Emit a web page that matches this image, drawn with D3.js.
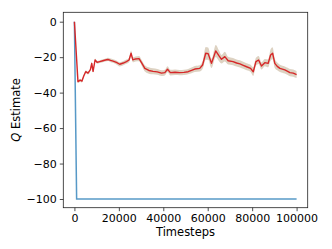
<!DOCTYPE html>
<html lang="en">
  <head>
    <meta charset="utf-8">
    <title>Q Estimate over timesteps</title>
    <style>
      body { margin: 0; background: #fff; }
      text { font-family: "DejaVu Sans", sans-serif; fill: #000; }
    </style>
  </head>
  <body>
    <div id="viz"></div>
    <script src="https://cdn.jsdelivr.net/npm/d3@7/dist/d3.min.js"></script>
    <script>
      // red run: mean and spread
      const redT = [0, 1600, 2600, 3400, 4200, 5100, 6100, 7200, 7800, 8400, 9300, 10200, 11400, 12800, 14000, 15100, 16300, 17400, 18900, 20400, 22000, 23400, 24600, 25500, 26300, 27500, 29100, 30400, 31700, 33500, 35400, 37300, 39200, 40700, 41900, 43200, 45300, 47400, 49300, 51200, 52700, 54200, 56400, 57700, 59100, 60200, 61700, 63600, 65100, 66200, 67700, 69200, 71400, 73000, 74500, 76000, 77500, 79300, 80500, 81700, 82900, 84200, 85700, 87200, 88300, 89200, 90200, 91300, 92500, 94700, 96000, 97000, 98500, 100000]
      const redMean = [0, -33.8, -33, -33.5, -30.6, -28.2, -29, -27, -23.5, -28, -21.6, -22.9, -22.5, -22, -21.6, -21.3, -21.8, -22.2, -23, -24, -23.3, -22.5, -21.6, -17.8, -21.5, -21, -20.8, -23.5, -26.3, -27.5, -28, -28.3, -29, -28.7, -26.8, -28.7, -28.5, -28.7, -28.6, -28.2, -27.5, -26.7, -26.3, -24.4, -17.8, -18, -23.5, -16.5, -19.3, -21.2, -19.7, -22, -22.5, -23.3, -23.8, -24.6, -25.4, -26.3, -28.2, -22.5, -21.6, -25, -23.1, -23.5, -18.8, -17.8, -23.5, -25.2, -26.3, -27.2, -28, -28.7, -29, -29.8]
      const redStd = [0.3, 0.8, 0.8, 0.8, 0.8, 0.8, 0.8, 0.8, 0.9, 0.8, 0.9, 0.8, 0.8, 0.8, 0.9, 0.9, 1, 1, 1.1, 1.2, 1.2, 1.2, 1.3, 1.5, 1.4, 1.4, 1.5, 1.6, 1.8, 1.8, 1.7, 1.6, 1.6, 1.6, 1.7, 1.6, 1.6, 1.5, 1.5, 1.5, 1.6, 1.7, 1.8, 2.2, 3.6, 3.4, 2.6, 3.4, 3, 2.4, 2.8, 2.2, 2, 2, 2, 2, 2, 2, 2.4, 2.2, 2.2, 2, 2, 2.2, 3.2, 3.4, 2.6, 2.2, 2, 2, 2, 2, 2, 2]

      // blue run
      const blueT = [0, 1000, 100000]
      const blueMean = [0, -100, -100]

      const xTicks = [0, 20000, 40000, 60000, 80000, 100000]
      const yTicks = [0, -20, -40, -60, -80, -100]

      const width = 332
      const height = 249
      const margin = { top: 12.3, right: 24.3, bottom: 41.3, left: 63.3 }

      const svg = d3.select('#viz').append('svg').attr('width', width).attr('height', height)

      const x = d3.scaleLinear().domain([-5000, 105000]).range([margin.left, width - margin.right])
      const y = d3.scaleLinear().domain([-104.9, 5.3]).range([height - margin.bottom, margin.top])

      const red = redT.map((t, i) => ({ t, m: redMean[i], s: redStd[i] }))
      const blue = blueT.map((t, i) => ({ t, m: blueMean[i] }))

      const area = d3.area().x(d => x(d.t)).y0(d => y(d.m - d.s)).y1(d => y(d.m + d.s)).curve(d3.curveMonotoneX)
      const line = d3.line().x(d => x(d.t)).y(d => y(d.m))

      svg.append('path').datum(blue)
        .attr('d', line).attr('fill', 'none')
        .attr('stroke', '#1f77b4').attr('stroke-opacity', 0.75).attr('stroke-width', 1.5)

      svg.append('path').datum(red)
        .attr('d', area).attr('fill', '#ddd2c2')

      svg.append('path').datum(red)
        .attr('d', line).attr('fill', 'none')
        .attr('stroke', '#d62728').attr('stroke-width', 1.4).attr('stroke-linejoin', 'round')

      // frame
      svg.append('rect')
        .attr('x', margin.left).attr('y', margin.top)
        .attr('width', width - margin.left - margin.right)
        .attr('height', height - margin.top - margin.bottom)
        .attr('fill', 'none').attr('stroke', '#222').attr('stroke-width', 0.8)

      const xAxis = svg.append('g')
        .attr('transform', `translate(0,${height - margin.bottom})`)
        .call(d3.axisBottom(x).tickValues(xTicks).tickSize(3.5).tickPadding(3).tickFormat(d3.format('d')))
      const yAxis = svg.append('g')
        .attr('transform', `translate(${margin.left},0)`)
        .call(d3.axisLeft(y).tickValues(yTicks).tickSize(3.5).tickPadding(3).tickFormat(d => d < 0 ? '\u2212' + Math.abs(d) : d))

      for (const g of [xAxis, yAxis]) {
        g.select('.domain').remove()
        g.selectAll('line').attr('stroke', '#222').attr('stroke-width', 0.8)
        g.selectAll('text').attr('font-size', 11).attr('font-family', 'DejaVu Sans').attr('fill', '#000')
      }

      svg.append('text')
        .attr('x', (margin.left + width - margin.right) / 2).attr('y', 236)
        .attr('text-anchor', 'middle').attr('font-size', 11.5)
        .text('Timesteps')

      const yl = svg.append('text')
        .attr('transform', `translate(20,${(margin.top + height - margin.bottom) / 2}) rotate(-90)`)
        .attr('text-anchor', 'middle').attr('font-size', 11.5)
      yl.append('tspan').attr('font-style', 'italic').text('Q')
      yl.append('tspan').text(' Estimate')
    </script>
  </body>
</html>
